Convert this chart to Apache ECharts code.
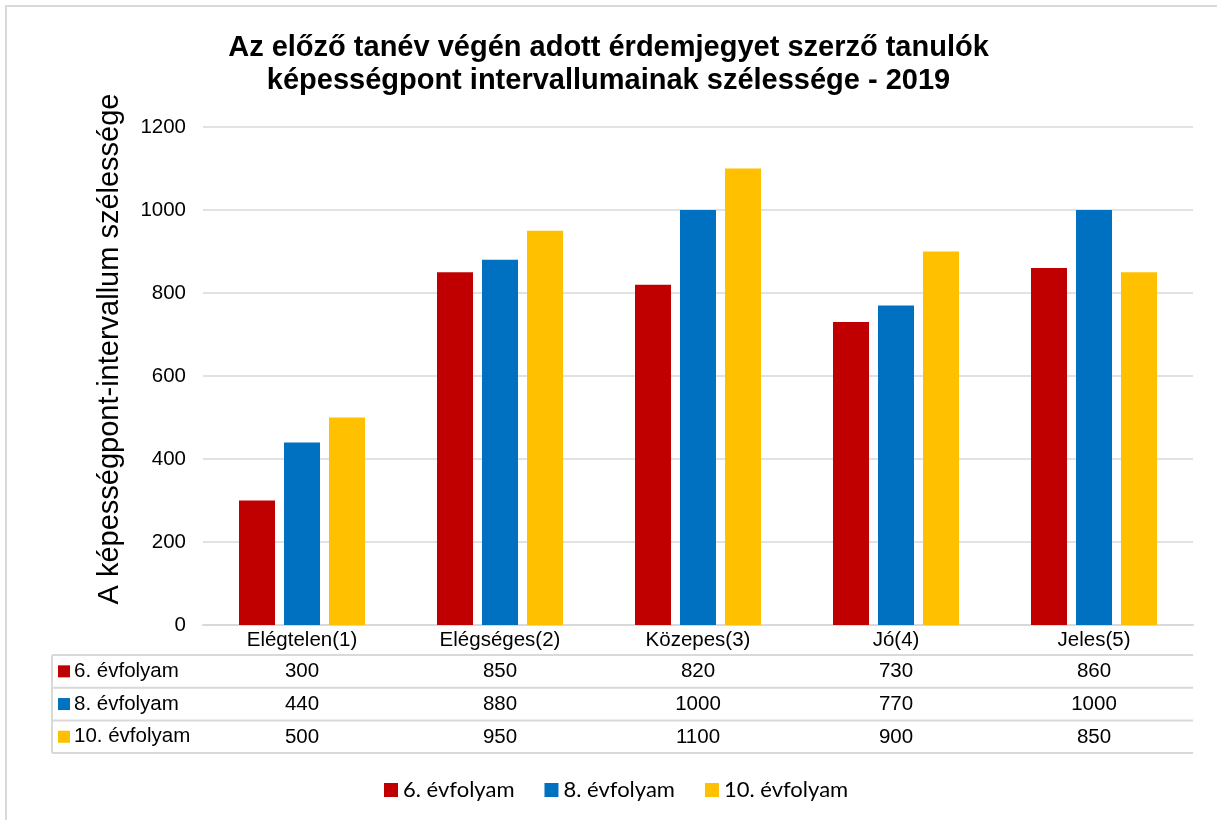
<!DOCTYPE html>
<html>
<head>
<meta charset="utf-8">
<script src="https://cdn.jsdelivr.net/npm/echarts@6/dist/echarts.min.js"></script>
<style>
  html, body { margin: 0; padding: 0; background: #fff; }
  #chart { width: 1217px; height: 820px; }
</style>
</head>
<body>
<div id="chart"></div>
<script>
// adatok
var categories = ['Elégtelen(1)', 'Elégséges(2)', 'Közepes(3)', 'Jó(4)', 'Jeles(5)'];
var seriesNames = ['6. évfolyam', '8. évfolyam', '10. évfolyam'];
var grade6 = [300, 850, 820, 730, 860];
var grade8 = [440, 880, 1000, 770, 1000];
var grade10 = [500, 950, 1100, 900, 850];
var yTicks = [0, 200, 400, 600, 800, 1000, 1200];
var colors = ['#C00000', '#0070C0', '#FFC000'];

var values = [grade6, grade8, grade10];
var font = '"Liberation Sans", Arial, sans-serif';
var borderColor = '#d9d9d9';
var labelSize = 20.5;

// elrendezés
var gridLeft = 203, gridRight = 24, gridTop = 127, gridBottom = 195;
var plotBottom = 820 - gridBottom;
var headerH = 30, rowH = 32.7;
var tableLeft = 52;

var myChart = echarts.init(document.getElementById('chart'));

var xAxes = [{
    type: 'category',
    data: categories,
    axisLine: { lineStyle: { color: borderColor, width: 2 } },
    axisTick: { length: headerH + rowH * 3, lineStyle: { color: borderColor, width: 2 } },
    axisLabel: { margin: 5, fontSize: labelSize, color: '#000', fontFamily: font }
}];
values.forEach(function (vals, i) {
    xAxes.push({
        type: 'category',
        position: 'bottom',
        offset: headerH + rowH * i,
        data: vals.map(String),
        axisLine: { show: false },
        axisTick: { show: false },
        axisLabel: { margin: 6, fontSize: labelSize, color: '#000', fontFamily: font }
    });
});

// táblázat vonalai, bal oszlop
var graphics = [{
    type: 'rect',
    z: -10,
    shape: { x: 6, y: 6, width: 1260, height: 860 },
    style: { fill: 'none', stroke: borderColor, lineWidth: 2 }
}, {
    type: 'text',
    x: 110, y: 349,
    rotation: Math.PI / 2,
    style: {
        text: 'A képességpont-intervallum szélessége',
        fontSize: 29, fontFamily: font, fill: '#000',
        align: 'center', verticalAlign: 'middle'
    }
}];
for (var r = 0; r <= 3; r++) {
    var y = plotBottom + headerH + rowH * r;
    graphics.push({
        type: 'line',
        shape: { x1: tableLeft, y1: y, x2: 1217 - gridRight, y2: y },
        style: { stroke: borderColor, lineWidth: 2 }
    });
}
graphics.push({
    type: 'line',
    shape: { x1: tableLeft, y1: plotBottom + headerH, x2: tableLeft, y2: plotBottom + headerH + rowH * 3 },
    style: { stroke: borderColor, lineWidth: 2 }
});
seriesNames.forEach(function (name, i) {
    var cy = plotBottom + headerH + rowH * i + rowH / 2;
    graphics.push({
        type: 'rect',
        shape: { x: tableLeft + 6, y: cy - 6, width: 12, height: 12 },
        style: { fill: colors[i] }
    });
    graphics.push({
        type: 'text',
        x: tableLeft + 22, y: cy,
        style: {
            text: name, fontSize: labelSize, fontFamily: font, fill: '#000',
            align: 'left', verticalAlign: 'middle'
        }
    });
});

myChart.setOption({
    animation: false,
    color: colors,
    title: {
        text: 'Az előző tanév végén adott érdemjegyet szerző tanulók\nképességpont intervallumainak szélessége - 2019',
        left: 'center',
        top: 26,
        textStyle: { fontSize: 29, fontWeight: 'bold', fontFamily: font, color: '#000', lineHeight: 33 }
    },
    legend: {
        data: seriesNames,
        top: 774,
        left: 379,
        icon: 'rect',
        itemWidth: 14,
        itemHeight: 14,
        itemGap: 30,
        textStyle: { fontSize: 22, fontFamily: 'Lato, "Open Sans", sans-serif', color: '#000' }
    },
    grid: { left: gridLeft, right: gridRight, top: gridTop, bottom: gridBottom },
    xAxis: xAxes,
    yAxis: {
        type: 'value',
        min: yTicks[0],
        max: yTicks[yTicks.length - 1],
        interval: yTicks[1] - yTicks[0],
        axisLine: { show: false },
        axisTick: { show: false },
        axisLabel: {
            margin: 17, fontSize: labelSize, color: '#000', fontFamily: font,
            formatter: function (v) { return String(v); }
        },
        splitLine: { lineStyle: { color: borderColor, width: 1.5 } }
    },
    graphic: graphics,
    series: seriesNames.map(function (name, i) {
        return {
            name: name,
            type: 'bar',
            xAxisIndex: 0,
            data: values[i],
            barWidth: 36,
            barGap: '25%'
        };
    })
});
</script>
</body>
</html>
